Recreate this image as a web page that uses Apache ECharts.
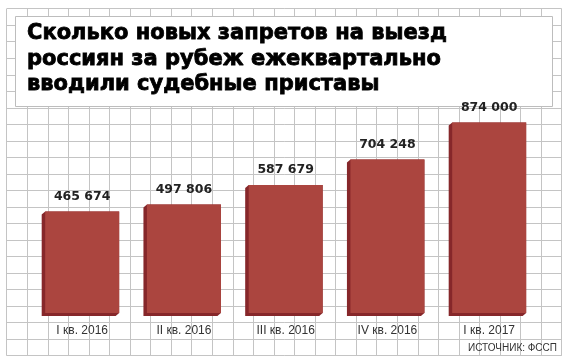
<!DOCTYPE html>
<html><head><meta charset="utf-8">
<script src="https://cdn.jsdelivr.net/npm/echarts@6/dist/echarts.min.js"></script>
<style>html,body{margin:0;padding:0;background:#fff}#c{width:570px;height:364px}</style>
</head><body><div id="c"></div>
<script>
const categories = ['I кв. 2016', 'II кв. 2016', 'III кв. 2016', 'IV кв. 2016', 'I кв. 2017'];
const values = [465674, 497806, 587679, 704248, 874000];
const titleLines = ['Сколько новых запретов на выезд', 'россиян за рубеж ежеквартально', 'вводили судебные приставы'];
const sourceText = 'ИСТОЧНИК: ФССП';
const gridCols = 27, gridRows = 21;

function fmt(v) { return String(v).replace(/\B(?=(\d{3})+(?!\d))/g, ' '); }

const FRONT = '#ab453f', SIDE = '#86272a';
const chart = echarts.init(document.getElementById('c'), null, {renderer: 'canvas'});
chart.setOption({
  animation: false,
  backgroundColor: '#fff',
  grid: [
    {left: 31.3, top: 95, width: 508.75, height: 218},
    {left: 6.7, top: 8.7, width: 555, height: 347}
  ],
  xAxis: [
    {type: 'category', data: categories, gridIndex: 0,
     axisLine: {show: false}, axisTick: {show: false}, splitLine: {show: false},
     axisLabel: {margin: 12, fontSize: 12, color: '#333', fontFamily: "'Liberation Sans Narrow', 'Liberation Sans', sans-serif"}},
    {type: 'value', gridIndex: 1, min: 0, max: gridCols, interval: 1,
     axisLine: {show: false}, axisTick: {show: false}, axisLabel: {show: false},
     splitLine: {show: true, lineStyle: {color: '#c4c4c4', width: 1}}}
  ],
  yAxis: [
    {type: 'value', gridIndex: 0, min: 0, max: 1000000,
     axisLine: {show: false}, axisTick: {show: false}, axisLabel: {show: false}, splitLine: {show: false}},
    {type: 'value', gridIndex: 1, min: 0, max: gridRows, interval: 1,
     axisLine: {show: false}, axisTick: {show: false}, axisLabel: {show: false},
     splitLine: {show: true, lineStyle: {color: '#c4c4c4', width: 1}}}
  ],
  series: [{
    type: 'custom', xAxisIndex: 0, yAxisIndex: 0, z: 5,
    data: values.map((v, i) => [i, v]),
    renderItem: function (params, api) {
      const i = api.value(0), v = api.value(1);
      const top = api.coord([i, v]), base = api.coord([i, 0]);
      const w = api.size([1, 0])[0] * 0.727;
      const x0 = top[0] - w / 2, x1 = top[0] + w / 2, y0 = top[1], y1 = base[1];
      const dx = 3.5, dy = 3;
      return {type: 'group', children: [
        {type: 'polygon', shape: {points: [[x0, y0], [x1, y0], [x1, y1], [x1 - dx, y1 + dy], [x0 - dx, y1 + dy], [x0 - dx, y0 + dy]]}, style: {fill: SIDE}},
        {type: 'rect', shape: {x: x0, y: y0, width: w, height: y1 - y0}, style: {fill: FRONT}},
        {type: 'text', style: {text: fmt(v), x: top[0], y: y0 - 15, align: 'center', verticalAlign: 'middle', font: 'bold 12.5px "DejaVu Sans"', fill: '#222'}}
      ]};
    }
  }],
  graphic: [
    {type: 'rect', z: 1, shape: {x: 15.5, y: 16.5, width: 537, height: 90}, style: {fill: '#fff', stroke: '#bdbdbd', lineWidth: 1}},
    {type: 'text', z: 10, style: {text: titleLines.join('\n'), x: 27, y: 21, font: 'bold 21px "DejaVu Sans"', lineHeight: 25.5, fill: '#000', stroke: '#000', lineWidth: 0.8}},
    {type: 'text', z: 10, style: {text: sourceText, x: 557, y: 348, align: 'right', verticalAlign: 'middle', font: "10px 'Liberation Sans Narrow', 'Liberation Sans'", fill: '#333'}}
  ]
});
</script></body></html>
